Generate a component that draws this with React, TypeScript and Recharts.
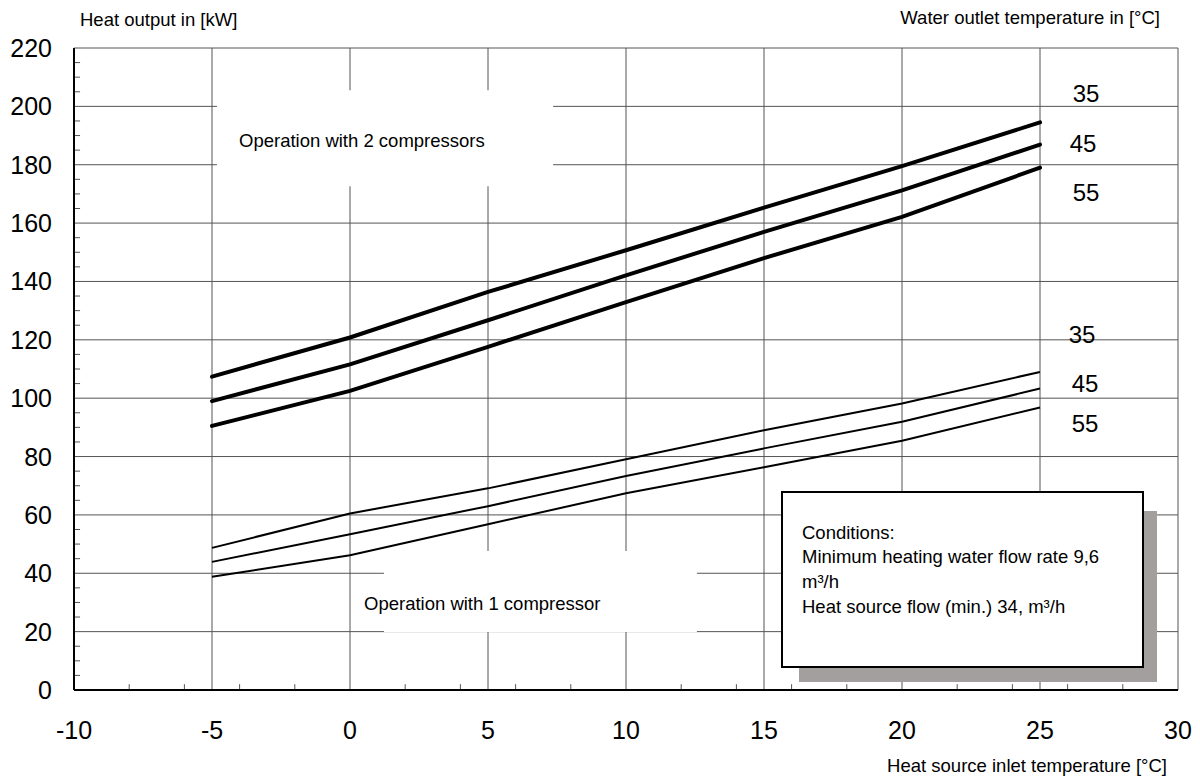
import React from "react";
import {
  LineChart,
  Line,
  XAxis,
  YAxis,
  CartesianGrid,
  ReferenceArea,
  ReferenceLine,
} from "recharts";

// Heat source inlet temperature [°C]
const temps = [-5, 0, 5, 10, 15, 20, 25];

// Operation with 2 compressors (water outlet 35 / 45 / 55 °C)
const twoComp35 = [107.4, 120.8, 136.4, 150.7, 165.3, 179.5, 194.5];
const twoComp45 = [99.0, 111.6, 126.7, 142.1, 157.0, 171.2, 186.9];
const twoComp55 = [90.5, 102.5, 117.6, 132.9, 148.0, 162.1, 179.0];

// Operation with 1 compressor (water outlet 35 / 45 / 55 °C)
const oneComp35 = [48.7, 60.5, 69.1, 79.1, 89.0, 98.2, 109.0];
const oneComp45 = [43.9, 53.4, 63.0, 73.3, 82.8, 91.9, 103.3];
const oneComp55 = [38.8, 46.2, 56.8, 67.4, 76.3, 85.4, 96.8];

const xTicks = [-10, -5, 0, 5, 10, 15, 20, 25, 30];
const yTicks = [0, 20, 40, 60, 80, 100, 120, 140, 160, 180, 200, 220];
const xMinorTicks = [-8, -6, -4, -2, 2, 4, 6, 8, 12, 14, 16, 18, 22, 24, 26, 28];
const yMinorTicks = [
  5, 10, 15, 25, 30, 35, 45, 50, 55, 65, 70, 75, 85, 90, 95, 105, 110, 115,
  125, 130, 135, 145, 150, 155, 165, 170, 175, 185, 190, 195, 205, 210, 215,
];

const curveLabels = ["35", "45", "55"];
const conditionLines = [
  "Conditions:",
  "Minimum heating water flow rate 9,6",
  "m³/h",
  "Heat source flow (min.) 34, m³/h",
];

const data = temps.map((t, i) => ({
  t,
  a35: twoComp35[i],
  a45: twoComp45[i],
  a55: twoComp55[i],
  b35: oneComp35[i],
  b45: oneComp45[i],
  b55: oneComp55[i],
}));

const FONT = '"Liberation Sans", Arial, Helvetica, sans-serif';

const XTick = (props: any) => {
  const { x, y, payload } = props;
  return (
    <text
      x={x}
      y={y + 40}
      dy="0.36em"
      textAnchor="middle"
      fontSize={25}
      fontFamily={FONT}
      fill="#000"
    >
      {payload.value}
    </text>
  );
};

const YTick = (props: any) => {
  const { x, y, payload } = props;
  return (
    <text
      x={x - 22}
      y={y}
      dy="0.36em"
      textAnchor="end"
      fontSize={25}
      fontFamily={FONT}
      fill="#000"
    >
      {payload.value}
    </text>
  );
};

export default function App() {
  return (
    <div
      style={{
        position: "absolute",
        left: 0,
        top: 0,
        width: 1200,
        height: 778,
        background: "#fff",
        fontFamily: FONT,
      }}
    >
      <LineChart
        width={1200}
        height={778}
        data={data}
        margin={{ top: 48, right: 22, bottom: 0, left: 0 }}
      >
        <CartesianGrid stroke="#555" strokeWidth={1} />
        <XAxis
          dataKey="t"
          type="number"
          domain={[-10, 30]}
          ticks={xTicks}
          height={88}
          tickSize={0}
          tickMargin={0}
          tick={<XTick />}
          axisLine={{ stroke: "#000", strokeWidth: 2 }}
          tickLine={false}
          interval={0}
        />
        <YAxis
          type="number"
          domain={[0, 220]}
          ticks={yTicks}
          width={74}
          tickSize={0}
          tickMargin={0}
          tick={<YTick />}
          axisLine={{ stroke: "#000", strokeWidth: 2 }}
          tickLine={false}
          interval={0}
        />
        {xMinorTicks.map((v) => (
          <ReferenceLine
            key={"xm" + v}
            segment={[
              { x: v, y: 0 },
              { x: v, y: 2 },
            ]}
            stroke="#555"
            strokeWidth={1}
          />
        ))}
        {yMinorTicks.map((v) => (
          <ReferenceLine
            key={"ym" + v}
            segment={[
              { x: -10, y: v },
              { x: -9.78, y: v },
            ]}
            stroke="#555"
            strokeWidth={1}
          />
        ))}
        <ReferenceArea
          x1={-4.82}
          x2={7.36}
          y1={172.6}
          y2={205.5}
          fill="#fff"
          fillOpacity={1}
          stroke="none"
        />
        <ReferenceArea
          x1={1.23}
          x2={12.57}
          y1={19.9}
          y2={47.6}
          fill="#fff"
          fillOpacity={1}
          stroke="none"
        />
        <Line dataKey="b35" stroke="#000" strokeWidth={2} dot={false} isAnimationActive={false} type="linear" />
        <Line dataKey="b45" stroke="#000" strokeWidth={2} dot={false} isAnimationActive={false} type="linear" />
        <Line dataKey="b55" stroke="#000" strokeWidth={2} dot={false} isAnimationActive={false} type="linear" />
        <Line dataKey="a35" stroke="#000" strokeWidth={4} strokeLinecap="round" dot={false} isAnimationActive={false} type="linear" />
        <Line dataKey="a45" stroke="#000" strokeWidth={4} strokeLinecap="round" dot={false} isAnimationActive={false} type="linear" />
        <Line dataKey="a55" stroke="#000" strokeWidth={4} strokeLinecap="round" dot={false} isAnimationActive={false} type="linear" />
      </LineChart>
      <svg
        width={1200}
        height={778}
        style={{ position: "absolute", left: 0, top: 0, pointerEvents: "none" }}
        fontFamily={FONT}
      >
        <text x={80} y={19.5} dy="0.36em" fontSize={18.5} fill="#000">
          Heat output in [kW]
        </text>
        <text x={1160} y={17} dy="0.36em" fontSize={18.5} fill="#000" textAnchor="end">
          Water outlet temperature in [°C]
        </text>
        <text x={1167} y={765} dy="0.36em" fontSize={18.5} fill="#000" textAnchor="end">
          Heat source inlet temperature [°C]
        </text>
        <text x={239} y={140} dy="0.36em" fontSize={18.5} fill="#000">
          Operation with 2 compressors
        </text>
        <text x={364} y={603} dy="0.36em" fontSize={18.5} fill="#000">
          Operation with 1 compressor
        </text>
        {/* curve labels, 2 compressors */}
        <text x={1086} y={93} dy="0.36em" fontSize={24} textAnchor="middle" fill="#000">{curveLabels[0]}</text>
        <text x={1083} y={143} dy="0.36em" fontSize={24} textAnchor="middle" fill="#000">{curveLabels[1]}</text>
        <text x={1086} y={192} dy="0.36em" fontSize={24} textAnchor="middle" fill="#000">{curveLabels[2]}</text>
        {/* curve labels, 1 compressor */}
        <text x={1082} y={334} dy="0.36em" fontSize={24} textAnchor="middle" fill="#000">{curveLabels[0]}</text>
        <text x={1085} y={383} dy="0.36em" fontSize={24} textAnchor="middle" fill="#000">{curveLabels[1]}</text>
        <text x={1085} y={423} dy="0.36em" fontSize={24} textAnchor="middle" fill="#000">{curveLabels[2]}</text>
        {/* conditions box */}
        <rect x={799} y={511} width={358} height={171} fill="#a39f9f" />
        <rect x={782} y={492} width={361} height={175} fill="#fff" stroke="#000" strokeWidth={2} />
        {conditionLines.map((line, i) => (
          <text key={i} x={802} y={532 + i * 24.7} dy="0.36em" fontSize={18.5} fill="#000">
            {line}
          </text>
        ))}
      </svg>
    </div>
  );
}
